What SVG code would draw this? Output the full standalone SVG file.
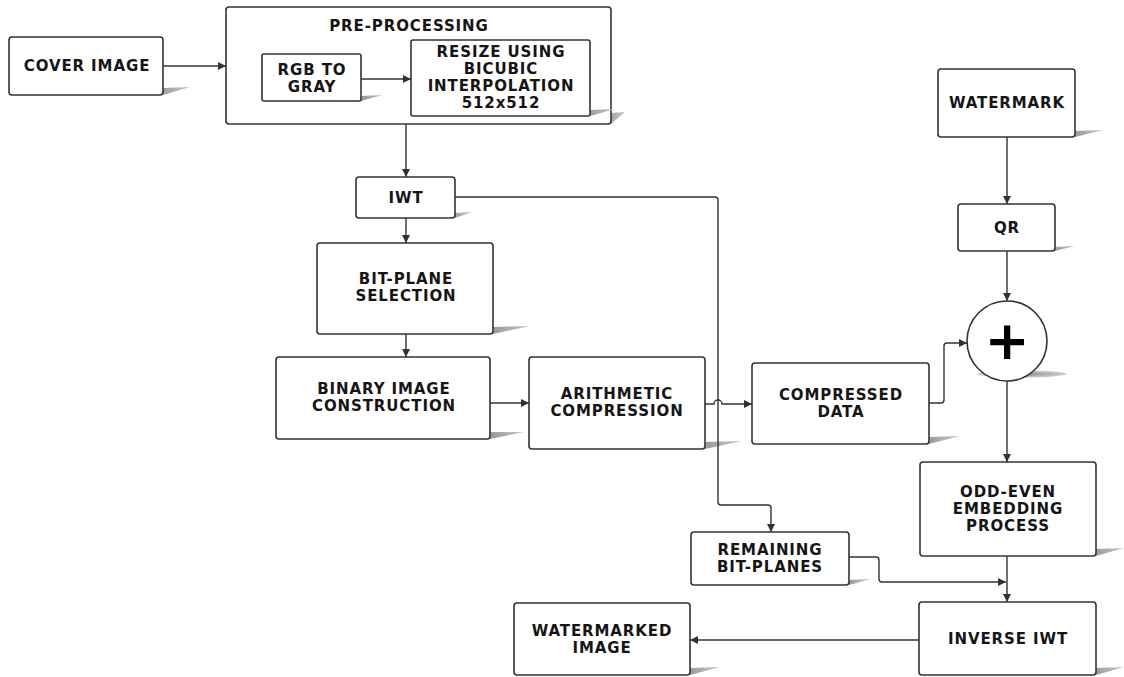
<svg xmlns="http://www.w3.org/2000/svg" width="1124" height="677" viewBox="0 0 1124 677">
<defs>
<linearGradient id="sh" x1="0" y1="0" x2="1" y2="0">
<stop offset="0" stop-color="#8a8a8a"/>
<stop offset="1" stop-color="#c8c8c8"/>
</linearGradient>
<radialGradient id="csh" cx="0.5" cy="0.5" r="0.5">
<stop offset="0" stop-color="#8a8a8a"/>
<stop offset="1" stop-color="#d0d0d0"/>
</radialGradient>
<marker id="ah" viewBox="0 0 10 10" refX="10" refY="5" markerWidth="8" markerHeight="8" markerUnits="userSpaceOnUse" orient="auto">
<path d="M0,0 L10,5 L0,10 z" fill="#333"/>
</marker>
</defs>
<style>
.box{fill:#fff;stroke:#333;stroke-width:1.6}
.sh{fill:url(#sh)}
.t{font-family:"DejaVu Sans",Verdana,sans-serif;font-weight:bold;font-size:15px;letter-spacing:0.9px;fill:#151515;text-anchor:middle}
.ca{fill:none;stroke:#333;stroke-width:1.4;marker-end:url(#ah)}
</style>
<rect width="1124" height="677" fill="#fff"/>

<g id="cover">
<polygon class="sh" points="150,95 163,88 190,87 163,95"/>
<rect class="box" x="9" y="37" width="154" height="58" rx="3"/>
<text class="t" x="87" y="71">COVER IMAGE</text>
</g>

<g id="preprocessing">
<polygon class="sh" points="600,124 611,113 625,112 611,124"/>
<rect class="box" x="226" y="7" width="385" height="117" rx="3"/>
<text class="t" x="409" y="31">PRE-PROCESSING</text>
</g>

<g id="rgb2gray">
<polygon class="sh" points="355,101 361,96 383,95 361,101"/>
<rect class="box" x="262" y="54" width="99" height="47" rx="2"/>
<text class="t" x="312" y="75">RGB TO</text>
<text class="t" x="312" y="92">GRAY</text>
</g>

<g id="resize">
<polygon class="sh" points="580,116 590,110 615,109 590,116"/>
<rect class="box" x="411" y="40" width="179" height="76" rx="2"/>
<text class="t" x="501" y="57">RESIZE USING</text>
<text class="t" x="501" y="74">BICUBIC</text>
<text class="t" x="501" y="91">INTERPOLATION</text>
<text class="t" x="501" y="108">512x512</text>
</g>

<g id="iwt">
<polygon class="sh" points="445,218 455,213 472,212 455,218"/>
<rect class="box" x="356" y="177" width="99" height="41" rx="3"/>
<text class="t" x="406" y="203">IWT</text>
</g>

<g id="bitplane">
<polygon class="sh" points="480,334 493,327 530,326 493,334"/>
<rect class="box" x="317" y="243" width="176" height="91" rx="3"/>
<text class="t" x="406" y="284">BIT-PLANE</text>
<text class="t" x="406" y="301">SELECTION</text>
</g>

<g id="binary">
<polygon class="sh" points="478,439 490,432 524,432 490,439"/>
<rect class="box" x="276" y="357" width="214" height="82" rx="3"/>
<text class="t" x="384" y="394">BINARY IMAGE</text>
<text class="t" x="384" y="411">CONSTRUCTION</text>
</g>

<g id="arithmetic">
<polygon class="sh" points="693,449 705,442 742,441 705,449"/>
<rect class="box" x="529" y="357" width="176" height="92" rx="3"/>
<text class="t" x="617" y="399">ARITHMETIC</text>
<text class="t" x="617" y="416">COMPRESSION</text>
</g>

<g id="compressed">
<polygon class="sh" points="917,444 929,437 960,436 929,444"/>
<rect class="box" x="752" y="363" width="177" height="81" rx="3"/>
<text class="t" x="841" y="400">COMPRESSED</text>
<text class="t" x="841" y="417">DATA</text>
</g>

<g id="watermark">
<polygon class="sh" points="1065,137 1075,131 1103,130 1075,137"/>
<rect class="box" x="938" y="69" width="137" height="68" rx="3"/>
<text class="t" x="1007" y="108">WATERMARK</text>
</g>

<g id="qr">
<polygon class="sh" points="1045,251 1055,247 1075,246 1055,251"/>
<rect class="box" x="958" y="204" width="97" height="47" rx="3"/>
<text class="t" x="1007" y="233">QR</text>
</g>

<g id="adder">
<ellipse cx="1022" cy="374" rx="45" ry="3.5" fill="url(#csh)"/>
<circle class="box" cx="1007" cy="341" r="40"/>
<text x="1007" y="359" text-anchor="middle" font-family="DejaVu Sans,sans-serif" font-weight="bold" font-size="54" fill="#000">+</text>
</g>

<g id="oddeven">
<polygon class="sh" points="1084,556 1096,549 1124,548 1096,556"/>
<rect class="box" x="920" y="462" width="176" height="94" rx="3"/>
<text class="t" x="1008" y="497">ODD-EVEN</text>
<text class="t" x="1008" y="514">EMBEDDING</text>
<text class="t" x="1008" y="531">PROCESS</text>
</g>

<g id="remaining">
<polygon class="sh" points="839,585 849,580 871,579 849,585"/>
<rect class="box" x="691" y="532" width="158" height="53" rx="3"/>
<text class="t" x="770" y="555">REMAINING</text>
<text class="t" x="770" y="572">BIT-PLANES</text>
</g>

<g id="inverse">
<polygon class="sh" points="1084,675 1096,668 1124,667 1096,675"/>
<rect class="box" x="919" y="602" width="177" height="73" rx="3"/>
<text class="t" x="1008" y="644">INVERSE IWT</text>
</g>

<g id="watermarked">
<polygon class="sh" points="678,675 690,668 720,667 690,675"/>
<rect class="box" x="514" y="603" width="176" height="72" rx="3"/>
<text class="t" x="602" y="636">WATERMARKED</text>
<text class="t" x="602" y="653">IMAGE</text>
</g>

<g id="connectors">
<path class="ca" d="M163,66 H226"/>
<path class="ca" d="M361,79 H411"/>
<path class="ca" d="M406,124 V177"/>
<path class="ca" d="M406,218 V243"/>
<path class="ca" d="M406,334 V357"/>
<path class="ca" d="M490,403 H529"/>
<path class="ca" d="M705,404 H714 a4,4 0 0 1 8,0 H752"/>
<path class="ca" d="M455,197 H715 q3,0 3,3 V502 q0,3 3,3 H768 q3,0 3,3 V532"/>
<path class="ca" d="M929,403 H941 q3,0 3,-3 V346 q0,-3 3,-3 H967"/>
<path class="ca" d="M1007,137 V204"/>
<path class="ca" d="M1007,251 V301"/>
<path class="ca" d="M1007,381 V462"/>
<path class="ca" d="M1007,556 V602"/>
<path class="ca" d="M849,557 H876 q3,0 3,3 V579 q0,3 3,3 H1006"/>
<path class="ca" d="M919,640 H690"/>
</g>
</svg>
